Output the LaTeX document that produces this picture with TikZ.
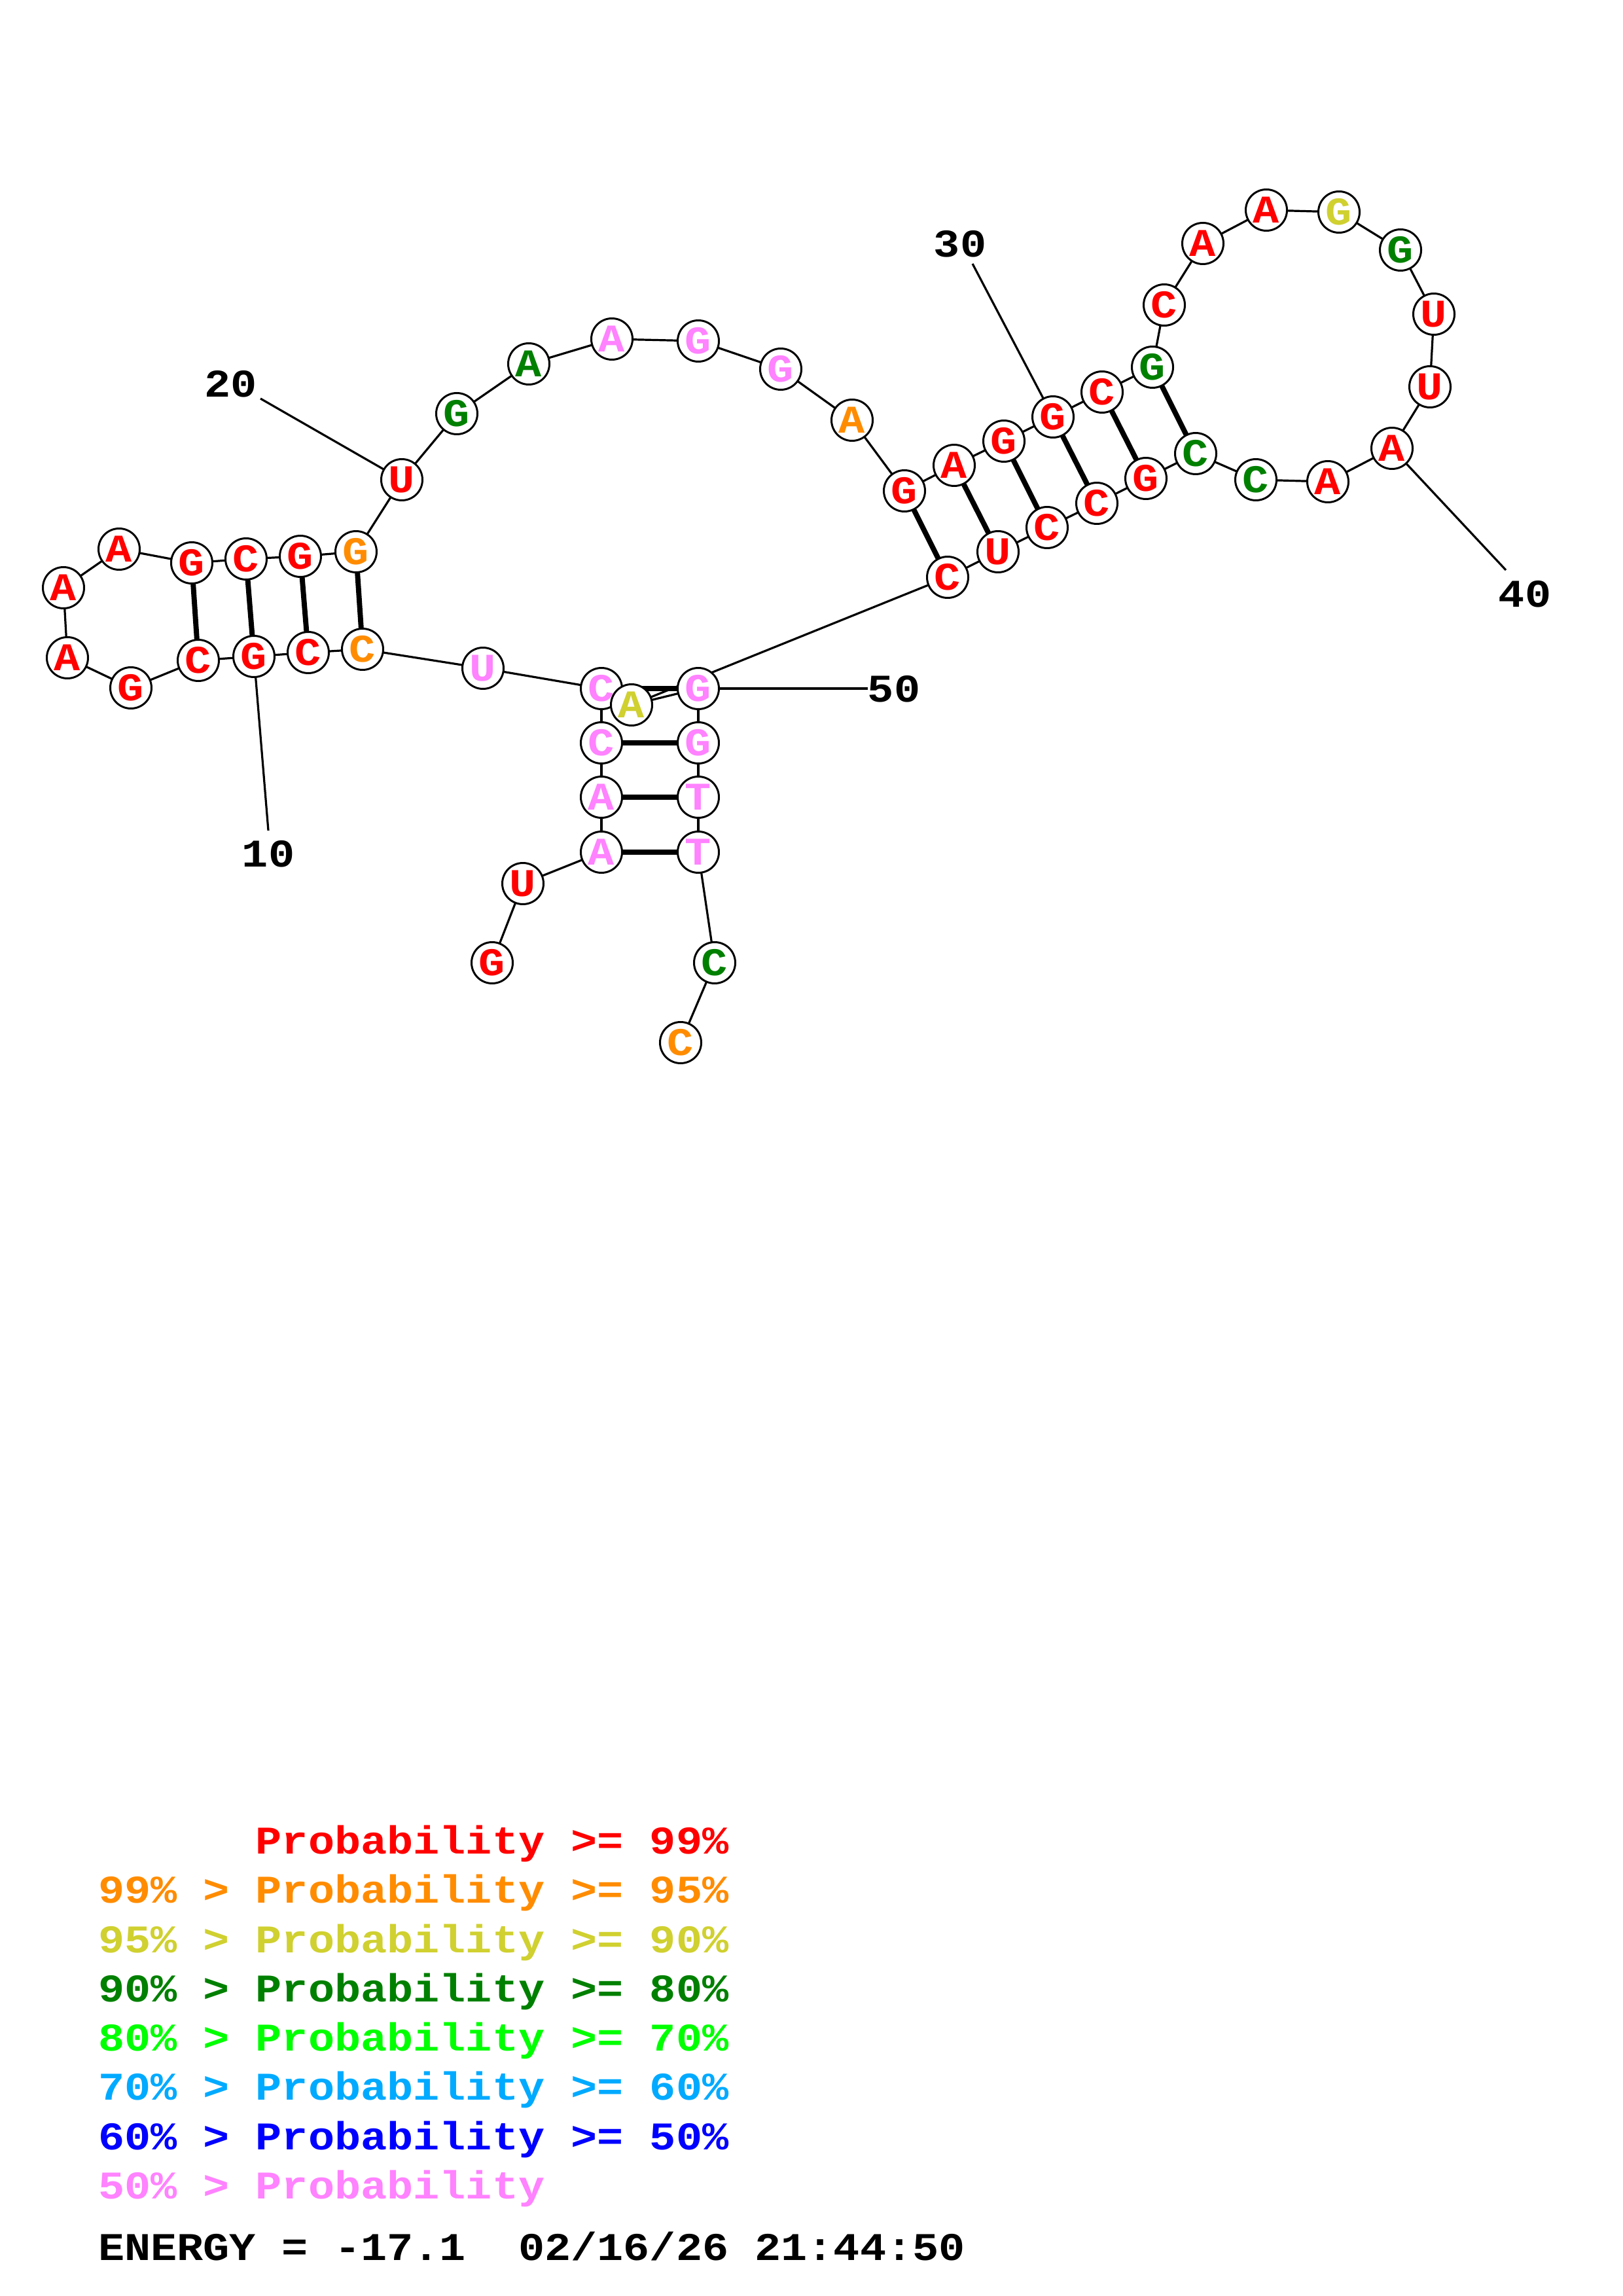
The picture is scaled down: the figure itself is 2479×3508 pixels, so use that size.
\documentclass[tikz,border=0pt]{standalone}
\usepackage{fontspec}
\newfontfamily\rnafont[FakeStretch=1.115]{Liberation Mono}
\usetikzlibrary{backgrounds}
\definecolor{pred}{RGB}{255,0,0}
\definecolor{porange}{RGB}{255,140,0}
\definecolor{pyellow}{RGB}{208,208,48}
\definecolor{pdkgreen}{RGB}{0,128,0}
\definecolor{pgreen}{RGB}{0,255,0}
\definecolor{pltblue}{RGB}{0,170,255}
\definecolor{pblue}{RGB}{0,0,255}
\definecolor{ppink}{RGB}{255,130,255}
\begin{document}
\begin{tikzpicture}[x=0.24pt,y=-0.24pt,
  font=\rnafont\bfseries\fontsize{14.4}{14.4}\selectfont,
  nuc/.style={circle, draw=black, fill=white, line width=0.72pt, minimum size=15.12pt, inner sep=0pt},
  bb/.style={line width=0.77pt},
  pr/.style={line width=1.9pt},
  lab/.style={inner sep=0pt, outer sep=0pt},
  leg/.style={inner sep=0pt, outer sep=0pt, anchor=base west}]
\useasboundingbox (0,0) rectangle (2479,3508);
% nucleotides
\foreach \i/\x/\y/\c/\b in {
 1/752/1471/pred/G, 2/799/1350/pred/U, 3/919/1302/ppink/A, 4/919/1218/ppink/A,
 5/919/1135/ppink/C, 6/919/1052/ppink/C, 7/738/1021/ppink/U, 8/554/992/porange/C,
 9/471/997/pred/C, 10/388/1003/pred/G, 11/303/1009/pred/C, 12/200/1051/pred/G,
 13/103/1005/pred/A, 14/97/898/pred/A, 15/182/839/pred/A, 16/293/860/pred/G,
 17/376/854/pred/C, 18/459/850/pred/G, 19/544/843/porange/G, 20/614/733/pred/U,
 21/698/632/pdkgreen/G, 22/808/556/pdkgreen/A, 23/935/518/ppink/A, 24/1067/521/ppink/G,
 25/1193/564/ppink/G, 26/1302/642/porange/A, 27/1382/750/pred/G, 28/1458/711/pred/A,
 29/1534/674/pred/G, 30/1609/637/pred/G, 31/1684/599/pred/C, 32/1761/561/pdkgreen/G,
 33/1779/466/pred/C, 34/1838/372/pred/A, 35/1935/321/pred/A, 36/2046/324/pyellow/G,
 37/2140/382/pdkgreen/G, 38/2191/480/pred/U, 39/2185/591/pred/U, 40/2127/685/pred/A,
 41/2029/736/pred/A, 42/1919/733/pdkgreen/C, 43/1827/693/pdkgreen/C, 44/1751/731/pred/G,
 45/1676/769/pred/C, 46/1600/806/pred/C, 47/1525/843/pred/U, 48/1448/882/pred/C,
 49/965/1077/pyellow/A, 50/1067/1052/ppink/G, 51/1067/1135/ppink/G, 52/1067/1218/ppink/T,
 53/1067/1302/ppink/T, 54/1092/1471/pdkgreen/C, 55/1040/1593/porange/C}
  \node[nuc, text=\c] (n\i) at (\x,\y) {\b};
% label end points
\coordinate (e10) at (410,1269);
\coordinate (e20) at (398,609);
\coordinate (e30) at (1486,403);
\coordinate (e40) at (2301,871);
\coordinate (e50) at (1326,1052);
\begin{scope}[on background layer]
  \foreach \i in {1,...,54}{
    \pgfmathtruncatemacro\j{\i+1}
    \draw[bb] (n\i.center) -- (n\j.center);
  }
  \foreach \a/\b in {3/53,4/52,5/51,6/50,8/19,9/18,10/17,11/16,27/48,28/47,29/46,30/45,31/44,32/43}
    \draw[pr] (n\a.center) -- (n\b.center);
  \foreach \k in {10,20,30,40,50}
    \draw[bb] (n\k.center) -- (e\k);
\end{scope}
% position labels
\node[lab] (t10) at (410,1305) {10};
\node[lab] (t20) at (353,587) {20};
\node[lab] (t30) at (1467,373) {30};
\node[lab] (t40) at (2330,908) {40};
\node[lab] (t50) at (1366,1053) {50};
% legend
\node[leg, text=pred] (l1) at (390.8,2832) {Probability~>=~99\%};
\node[leg, text=porange] (l2) at (150,2907) {99\%~>~Probability~>=~95\%};
\node[leg, text=pyellow] (l3) at (150,2983) {95\%~>~Probability~>=~90\%};
\node[leg, text=pdkgreen] (l4) at (150,3058) {90\%~>~Probability~>=~80\%};
\node[leg, text=pgreen] (l5) at (150,3133) {80\%~>~Probability~>=~70\%};
\node[leg, text=pltblue] (l6) at (150,3208) {70\%~>~Probability~>=~60\%};
\node[leg, text=pblue] (l7) at (150,3284) {60\%~>~Probability~>=~50\%};
\node[leg, text=ppink] (l8) at (150,3359) {50\%~>~Probability};
\node[leg, text=black] (en) at (150,3453) {ENERGY~=~-17.1~~02/16/26~21:44:50};
\end{tikzpicture}
\end{document}
